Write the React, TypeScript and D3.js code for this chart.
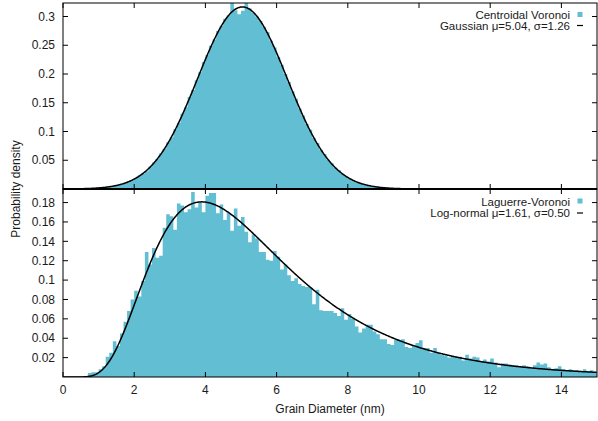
import React from "react";
import * as d3 from "d3";

const binWidth = 0.1;
const topStart = 0.8;
const topValues = [
  0.001, 0.0015, 0.002, 0.003, 0.003, 0.004, 0.006, 0.007, 0.008, 0.010,
  0.014, 0.015, 0.019, 0.024, 0.027, 0.031, 0.039, 0.046, 0.052, 0.062,
  0.070, 0.081, 0.090, 0.104, 0.115, 0.131, 0.142, 0.160, 0.172, 0.189,
  0.203, 0.221, 0.233, 0.249, 0.260, 0.275, 0.284, 0.296, 0.302, 0.326,
  0.311, 0.304, 0.310, 0.326, 0.314, 0.306, 0.300, 0.292, 0.282, 0.273,
  0.258, 0.246, 0.230, 0.216, 0.200, 0.186, 0.170, 0.157, 0.140, 0.128,
  0.113, 0.103, 0.089, 0.080, 0.068, 0.061, 0.051, 0.045, 0.037, 0.033,
  0.026, 0.022, 0.018, 0.015, 0.012, 0.010, 0.008, 0.0065, 0.005, 0.004,
  0.0033, 0.0025, 0.002, 0.0015, 0.0012, 0.001, 0.0008, 0.0006,
];
const bottomStart = 0.7;
const bottomValues = [
  0.004, 0.005, 0.005, 0.008, 0.011, 0.021, 0.025, 0.037, 0.032, 0.045,
  0.057, 0.068, 0.080, 0.089, 0.083, 0.099, 0.129, 0.116, 0.133, 0.123,
  0.125, 0.154, 0.168, 0.166, 0.152, 0.179, 0.177, 0.170, 0.173, 0.191,
  0.175, 0.180, 0.170, 0.187, 0.190, 0.190, 0.169, 0.178, 0.162, 0.170,
  0.151, 0.174, 0.156, 0.165, 0.150, 0.139, 0.147, 0.143, 0.129, 0.129,
  0.121, 0.120, 0.130, 0.124, 0.111, 0.116, 0.105, 0.099, 0.102, 0.096,
  0.094, 0.093, 0.093, 0.075, 0.090, 0.069, 0.068, 0.068, 0.068, 0.066,
  0.063, 0.071, 0.059, 0.065, 0.060, 0.052, 0.046, 0.050, 0.054, 0.054,
  0.047, 0.044, 0.039, 0.039, 0.034, 0.033, 0.039, 0.038, 0.039, 0.031,
  0.030, 0.033, 0.035, 0.038, 0.030, 0.030, 0.025, 0.030, 0.025, 0.023,
  0.022, 0.020, 0.022, 0.021, 0.021, 0.017, 0.023, 0.019, 0.021, 0.020,
  0.016, 0.018, 0.016, 0.019, 0.015, 0.010, 0.014, 0.014, 0.013, 0.012,
  0.012, 0.011, 0.012, 0.011, 0.009, 0.012, 0.015, 0.013, 0.014, 0.010,
  0.008, 0.009, 0.011, 0.008, 0.007, 0.008, 0.007, 0.007, 0.006, 0.008,
  0.006, 0.007, 0.005,
];

const gaussMu = 5.04;
const gaussSigma = 1.26;
const lnMu = 1.61;
const lnSigma = 0.5;

const xTicks = [0, 2, 4, 6, 8, 10, 12, 14];
const topTicks = [0.05, 0.1, 0.15, 0.2, 0.25, 0.3];
const topTickLabels = ["0.05", "0.1", "0.15", "0.2", "0.25", "0.3"];
const bottomTicks = [0.02, 0.04, 0.06, 0.08, 0.1, 0.12, 0.14, 0.16, 0.18];
const bottomTickLabels = ["0.02", "0.04", "0.06", "0.08", "0.1", "0.12", "0.14", "0.16", "0.18"];

const topLegend = ["Centroidal Voronoi", "Gaussian \u03bc=5.04, \u03c3=1.26"];
const bottomLegend = ["Laguerre-Voronoi", "Log-normal \u03bc=1.61, \u03c3=0.50"];

const FILL = "#62bed2";
const FONT = "'Liberation Sans', Arial, Helvetica, sans-serif";
const TXT = "#1a1a1a";

const L = 63, R = 597;
const topT = 3, mid = 189, bot = 377;

export default function App() {
  const x = d3.scaleLinear().domain([0, 15]).range([L, R]);
  const yTop = d3.scaleLinear().domain([0, 0.3235]).range([mid, topT]);
  const yBot = d3.scaleLinear().domain([0, 0.194]).range([bot, mid]);

  const xs = d3.range(0.01, 15.001, 0.02);
  const gauss = (v: number) =>
    Math.exp(-((v - gaussMu) ** 2) / (2 * gaussSigma ** 2)) / (gaussSigma * Math.sqrt(2 * Math.PI));
  const logn = (v: number) =>
    Math.exp(-((Math.log(v) - lnMu) ** 2) / (2 * lnSigma ** 2)) / (v * lnSigma * Math.sqrt(2 * Math.PI));

  const topLine = d3.line<number>().x((d) => x(d)).y((d) => yTop(gauss(d)))(xs) || "";
  const botLine = d3.line<number>().x((d) => x(d)).y((d) => yBot(logn(d)))(xs) || "";

  const histPath = (vals: number[], start: number, y: d3.ScaleLinear<number, number>) => {
    const pts = vals.map((v, i) => [start + i * binWidth, v] as [number, number]);
    pts.push([start + vals.length * binWidth, 0]);
    return (
      d3
        .area<[number, number]>()
        .x((d) => x(d[0]))
        .y0(y(0))
        .y1((d) => y(d[1]))
        .curve(d3.curveStepAfter)(pts) || ""
    );
  };

  const tick = 5;
  const fs = 12;
  const lfs = 11.5;

  return (
    <svg width={598} height={421} style={{ position: "absolute", left: 0, top: 0 }} fontFamily={FONT}>
      <defs>
        <clipPath id="cTop"><rect x={L} y={topT} width={R - L} height={mid - topT} /></clipPath>
        <clipPath id="cBot"><rect x={L} y={mid} width={R - L} height={bot - mid} /></clipPath>
      </defs>
      <rect width={598} height={421} fill="#fff" />
      <g clipPath="url(#cTop)">
        <path d={histPath(topValues, topStart, yTop)} fill={FILL} />
        <path d={topLine} fill="none" stroke="#000" strokeWidth={1.5} />
      </g>
      <g clipPath="url(#cBot)">
        <path d={histPath(bottomValues, bottomStart, yBot)} fill={FILL} />
        <path d={botLine} fill="none" stroke="#000" strokeWidth={1.5} />
      </g>

      <rect x={L} y={topT} width={R - L} height={mid - topT} fill="none" stroke="#000" strokeWidth={1} />
      <rect x={L} y={mid} width={R - L} height={bot - mid} fill="none" stroke="#000" strokeWidth={1} />
      <line x1={L} x2={R} y1={mid} y2={mid} stroke="#000" strokeWidth={2} />

      {topTicks.map((t, i) => (
        <g key={"tt" + i}>
          <line x1={L} x2={L + tick} y1={yTop(t)} y2={yTop(t)} stroke="#000" />
          <line x1={R - tick} x2={R} y1={yTop(t)} y2={yTop(t)} stroke="#000" />
          <text x={L - 8} y={yTop(t)} dy="0.35em" textAnchor="end" fontSize={fs} fill={TXT}>{topTickLabels[i]}</text>
        </g>
      ))}
      {bottomTicks.map((t, i) => (
        <g key={"bt" + i}>
          <line x1={L} x2={L + tick} y1={yBot(t)} y2={yBot(t)} stroke="#000" />
          <line x1={R - tick} x2={R} y1={yBot(t)} y2={yBot(t)} stroke="#000" />
          <text x={L - 8} y={yBot(t)} dy="0.35em" textAnchor="end" fontSize={fs} fill={TXT}>{bottomTickLabels[i]}</text>
        </g>
      ))}
      {xTicks.map((t) => (
        <g key={"x" + t}>
          <line x1={x(t)} x2={x(t)} y1={bot} y2={bot - tick} stroke="#000" />
          <line x1={x(t)} x2={x(t)} y1={mid} y2={mid + tick} stroke="#000" />
          <line x1={x(t)} x2={x(t)} y1={mid} y2={mid - tick} stroke="#000" />
          <line x1={x(t)} x2={x(t)} y1={topT} y2={topT + tick} stroke="#000" />
          <text x={x(t)} y={394} textAnchor="middle" fontSize={fs} fill={TXT}>{t}</text>
        </g>
      ))}

      <text x={330} y={413} textAnchor="middle" fontSize={fs} fill={TXT}>Grain Diameter (nm)</text>
      <text transform={`translate(20,${mid}) rotate(-90)`} textAnchor="middle" fontSize={fs} fill={TXT}>Probability density</text>

      <text x={570} y={18.5} textAnchor="end" fontSize={lfs} fill={TXT}>{topLegend[0]}</text>
      <rect x={577.5} y={12} width={5} height={5} fill={FILL} />
      <text x={570} y={30} textAnchor="end" fontSize={lfs} fill={TXT}>{topLegend[1]}</text>
      <line x1={577} x2={583} y1={25.5} y2={25.5} stroke="#000" strokeWidth={1.2} />

      <text x={570} y={205.5} textAnchor="end" fontSize={lfs} fill={TXT}>{bottomLegend[0]}</text>
      <rect x={577.5} y={198.5} width={5} height={5} fill={FILL} />
      <text x={570} y={217} textAnchor="end" fontSize={lfs} fill={TXT}>{bottomLegend[1]}</text>
      <line x1={577} x2={583} y1={213} y2={213} stroke="#000" strokeWidth={1.2} />
    </svg>
  );
}
